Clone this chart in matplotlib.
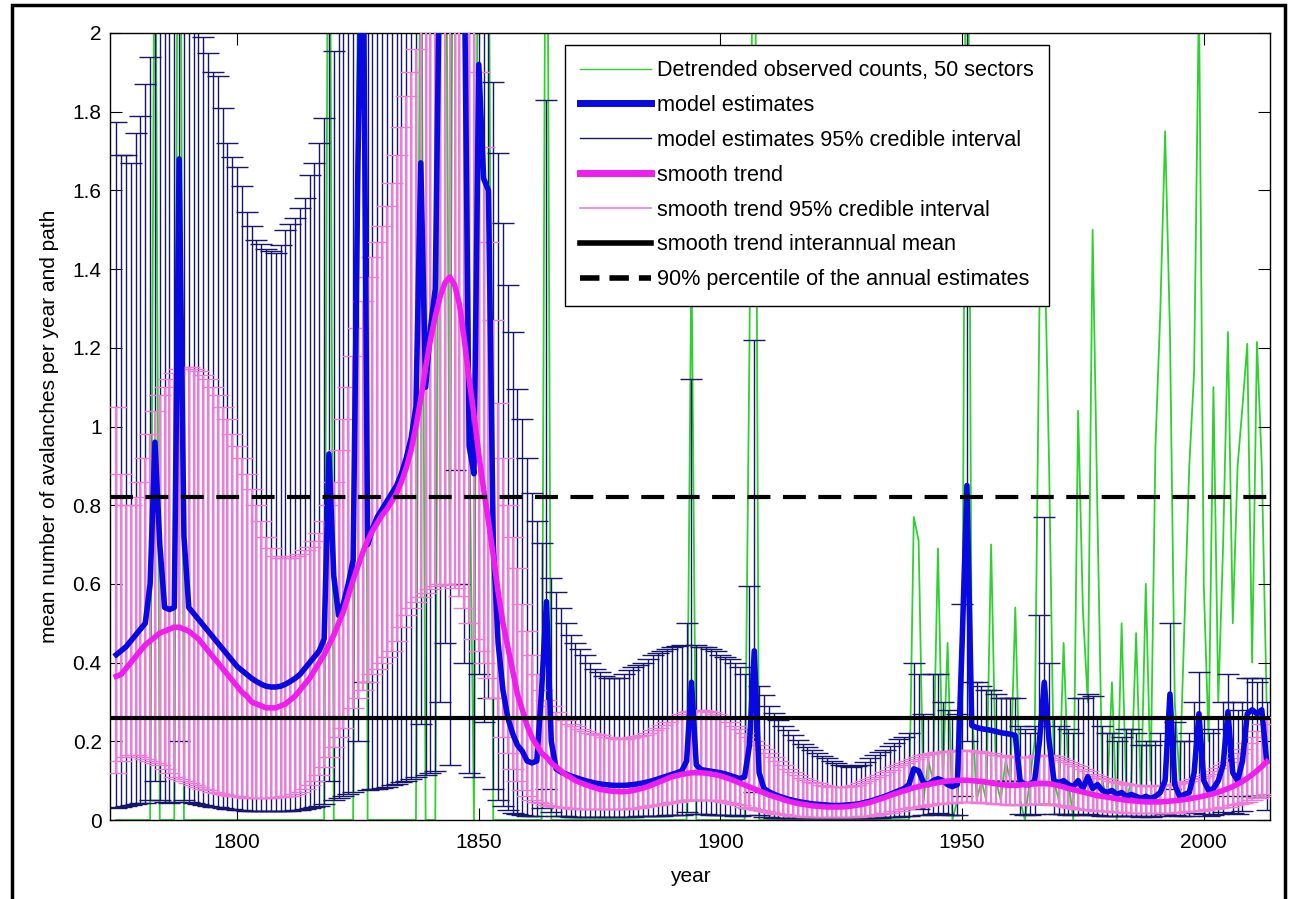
import numpy as np
import matplotlib.pyplot as plt
from matplotlib.lines import Line2D
from matplotlib.patches import Rectangle
from matplotlib.ticker import FuncFormatter

plt.rcParams['font.family'] = ['Liberation Sans', 'DejaVu Sans']

# years 1775..2013, one value per year (rows = decades)
years = np.arange(1775, 2014)

# detrended observed counts (green)
obs = [0, 0, 0, 0, 0,
       0, 0, 0, 2.6, 0, 0, 0, 0, 3.5, 0,
       0, 0, 0, 0, 0, 0, 0, 0, 0, 0,
       0, 0, 0, 0, 0, 0, 0, 0, 0, 0,
       0, 0, 0, 0, 0, 0, 0, 0, 0, 3.0,
       0, 0, 0, 0, 0, 2.2, 4.5, 0, 0, 0,
       0, 0, 0, 0, 0, 0, 0, 0, 2.6, 0,
       0, 0, 2.5, 3.0, 0.6, 3.5, 3.0, 2.5, 1.05, 0,
       3.0, 2.2, 2.5, 0, 0, 0, 0, 0, 0, 0,
       0, 0, 0, 0, 3.0, 0, 0, 0, 0, 0,
       0, 0, 0, 0, 0, 0, 0, 0, 0, 0,
       0, 0, 0, 0, 0, 0, 0, 0, 0, 0,
       0, 0, 0, 0, 1.45, 0, 0, 0, 0, 0,
       0, 0, 0, 0, 0, 0, 1.2, 2.8, 0, 0,
       0, 0, 0, 0, 0, 0, 0, 0, 0, 0,
       0, 0, 0, 0, 0, 0, 0, 0, 0, 0,
       0, 0, 0, 0, 0, 0, 0, 0, 0, 0,
       0.77, 0.71, 0.05, 0.15, 0.1, 0.69, 0.1, 0.45, 0.0, 0.05,
       0.2, 3.0, 0.3, 0.05, 0.1, 0.05, 0.70, 0.1, 0.05, 0.15,
       0.1, 0.54, 0.05, 0.0, 0.1, 0.2, 1.3, 1.5, 0.9, 0.1,
       0.05, 0.45, 0.1, 0.0, 1.04, 0.53, 0.3, 1.5, 0.775, 0.1,
       0.05, 0.35, 0.0, 0.5, 0.05, 0.1, 0.475, 0.05, 0.6, 0.1,
       0.95, 1.29, 1.75, 1.24, 0.3, 0.1, 0.5, 0.9, 1.14, 2.1,
       0.6, 0.2, 1.1, 0.3, 0.7, 1.24, 0.5, 0.9, 1.05, 1.21,
       0.4, 1.215, 0.9, 0.3]

# model estimates (thick blue)
model = [0.42, 0.43, 0.44, 0.455, 0.47,
         0.485, 0.50, 0.60, 0.96, 0.70, 0.54, 0.535, 0.54, 1.68, 0.72,
         0.54, 0.525, 0.51, 0.495, 0.48, 0.465, 0.45, 0.435, 0.42, 0.405,
         0.39, 0.38, 0.37, 0.36, 0.352, 0.345, 0.34, 0.338, 0.338, 0.34,
         0.345, 0.352, 0.36, 0.37, 0.385, 0.40, 0.415, 0.43, 0.46, 0.93,
         0.62, 0.52, 0.55, 0.60, 0.66, 1.67, 2.4, 0.70, 0.74, 0.77,
         0.79, 0.81, 0.83, 0.85, 0.88, 0.92, 0.97, 1.05, 1.67, 1.1,
         1.25, 1.35, 2.3, 2.6, 2.1, 2.7, 2.5, 2.2, 0.95, 0.88,
         1.92, 1.63, 1.6, 0.7, 0.45, 0.33, 0.26, 0.22, 0.19, 0.175,
         0.15, 0.145, 0.15, 0.33, 0.555, 0.2, 0.13, 0.122, 0.117, 0.112,
         0.108, 0.104, 0.1, 0.097, 0.094, 0.092, 0.09, 0.089, 0.088, 0.088,
         0.088, 0.089, 0.09, 0.092, 0.094, 0.097, 0.1, 0.104, 0.108, 0.112,
         0.116, 0.12, 0.125, 0.15, 0.35, 0.14, 0.128, 0.126, 0.124, 0.122,
         0.12, 0.117, 0.113, 0.109, 0.105, 0.11, 0.19, 0.43, 0.12, 0.08,
         0.072, 0.066, 0.061, 0.057, 0.053, 0.05, 0.047, 0.045, 0.043, 0.041,
         0.04, 0.039, 0.038, 0.037, 0.037, 0.037, 0.038, 0.039, 0.04, 0.042,
         0.045, 0.048, 0.052, 0.056, 0.06, 0.065, 0.07, 0.075, 0.08, 0.09,
         0.13, 0.125, 0.095, 0.09, 0.1, 0.105, 0.1, 0.09, 0.085, 0.09,
         0.45, 0.85, 0.24, 0.235, 0.232, 0.23, 0.228, 0.225, 0.222, 0.22,
         0.218, 0.215, 0.1, 0.09, 0.09, 0.1, 0.2, 0.35, 0.2, 0.1,
         0.095, 0.1, 0.09, 0.085, 0.1, 0.08, 0.11, 0.08, 0.09, 0.075,
         0.07, 0.075, 0.065, 0.07, 0.06, 0.065, 0.06, 0.055, 0.06, 0.055,
         0.06, 0.07, 0.1, 0.32, 0.09, 0.06, 0.065, 0.07, 0.12, 0.27,
         0.1, 0.075, 0.08, 0.1, 0.14, 0.275, 0.12, 0.1, 0.15, 0.27,
         0.28, 0.27, 0.28, 0.15]

# model estimates 95% credible interval
model_lo = [0.03, 0.032, 0.035, 0.038, 0.04,
            0.042, 0.044, 0.05, 0.1, 0.05, 0.045, 0.044, 0.045, 0.2, 0.05,
            0.045, 0.043, 0.04, 0.038, 0.036, 0.034, 0.032, 0.03, 0.028, 0.027,
            0.026, 0.025, 0.024, 0.023, 0.022, 0.022, 0.022, 0.022, 0.022, 0.022,
            0.023, 0.024, 0.025, 0.026, 0.028, 0.03, 0.033, 0.036, 0.04, 0.1,
            0.05, 0.055, 0.06, 0.065, 0.07, 0.2, 0.35, 0.075, 0.078, 0.08,
            0.082, 0.085, 0.088, 0.092, 0.096, 0.1, 0.105, 0.11, 0.245, 0.115,
            0.12, 0.125, 0.3, 0.45, 0.14, 0.89, 0.6, 0.4, 0.12, 0.11,
            0.37, 0.25, 0.31, 0.08, 0.05, 0.035, 0.025, 0.018, 0.014, 0.012,
            0.011, 0.01, 0.01, 0.03, 0.08, 0.02, 0.01, 0.009, 0.009, 0.008,
            0.008, 0.008, 0.008, 0.008, 0.008, 0.008, 0.008, 0.008, 0.008, 0.008,
            0.008, 0.008, 0.008, 0.009, 0.009, 0.01, 0.01, 0.011, 0.011, 0.012,
            0.012, 0.013, 0.013, 0.02, 0.05, 0.015, 0.014, 0.014, 0.013, 0.013,
            0.013, 0.012, 0.012, 0.011, 0.011, 0.012, 0.03, 0.07, 0.012, 0.008,
            0.007, 0.006, 0.006, 0.005, 0.005, 0.005, 0.004, 0.004, 0.004, 0.004,
            0.004, 0.004, 0.004, 0.004, 0.004, 0.004, 0.004, 0.004, 0.004, 0.005,
            0.005, 0.005, 0.006, 0.006, 0.007, 0.007, 0.008, 0.008, 0.009, 0.01,
            0.03, 0.028, 0.012, 0.012, 0.015, 0.018, 0.015, 0.013, 0.012, 0.013,
            0.06, 0.2, 0.1, 0.1, 0.1, 0.1, 0.1, 0.1, 0.1, 0.1,
            0.1, 0.1, 0.015, 0.013, 0.013, 0.015, 0.04, 0.09, 0.04, 0.015,
            0.014, 0.015, 0.013, 0.012, 0.015, 0.012, 0.016, 0.012, 0.013, 0.011,
            0.01, 0.011, 0.009, 0.01, 0.009, 0.009, 0.009, 0.008, 0.009, 0.008,
            0.009, 0.01, 0.015, 0.08, 0.013, 0.009, 0.01, 0.01, 0.018, 0.06,
            0.015, 0.011, 0.012, 0.015, 0.02, 0.06, 0.018, 0.015, 0.022, 0.06,
            0.06, 0.06, 0.06, 0.025]

model_hi = [1.775, 1.69, 1.69, 1.67, 1.745,
            1.79, 1.87, 1.94, 2.4, 2.5, 2.6, 2.6, 2.7, 3.5, 2.8,
            2.5, 2.2, 2.05, 1.99, 1.95, 1.90, 1.89, 1.81, 1.72, 1.685,
            1.66, 1.61, 1.545, 1.51, 1.475, 1.465, 1.45, 1.445, 1.44, 1.46,
            1.50, 1.515, 1.53, 1.555, 1.58, 1.64, 1.67, 1.72, 1.785, 3.0,
            1.955, 2.1, 2.2, 2.3, 2.4, 3.5, 4.5, 2.6, 2.5, 2.5,
            2.5, 2.5, 2.55, 2.6, 2.65, 2.7, 2.8, 2.9, 3.5, 3.0,
            3.1, 3.2, 4.0, 4.5, 3.5, 4.5, 4.2, 3.8, 2.9, 2.8,
            3.6, 3.0, 3.2, 1.876, 1.695, 1.517, 1.36, 1.24, 1.095, 1.02,
            0.92, 0.83, 0.76, 0.705, 1.83, 0.615, 0.58, 0.54, 0.50, 0.47,
            0.45, 0.435, 0.42, 0.40, 0.385, 0.375, 0.365, 0.36, 0.36, 0.362,
            0.37, 0.38, 0.39, 0.395, 0.40, 0.41, 0.42, 0.425, 0.43, 0.435,
            0.44, 0.443, 0.445, 0.50, 1.12, 0.445, 0.44, 0.44, 0.435, 0.43,
            0.42, 0.415, 0.41, 0.40, 0.39, 0.37, 0.595, 1.22, 0.34, 0.318,
            0.29, 0.272, 0.254, 0.24, 0.229, 0.215, 0.203, 0.194, 0.186, 0.177,
            0.169, 0.163, 0.157, 0.15, 0.144, 0.14, 0.137, 0.135, 0.137, 0.14,
            0.148, 0.157, 0.165, 0.172, 0.178, 0.187, 0.195, 0.205, 0.212, 0.22,
            0.40, 0.37, 0.27, 0.26, 0.37, 0.37, 0.30, 0.28, 0.26, 0.27,
            0.55, 2.3, 0.35, 0.35, 0.34, 0.33, 0.33, 0.32, 0.31, 0.31,
            0.31, 0.31, 0.24, 0.23, 0.22, 0.24, 0.52, 0.77, 0.40, 0.26,
            0.24, 0.26, 0.23, 0.22, 0.31, 0.31, 0.32, 0.315, 0.26, 0.24,
            0.22, 0.22, 0.20, 0.21, 0.23, 0.23, 0.22, 0.19, 0.20, 0.19,
            0.20, 0.22, 0.26, 0.50, 0.25, 0.20, 0.20, 0.22, 0.30, 0.375,
            0.26, 0.22, 0.23, 0.26, 0.30, 0.37, 0.30, 0.28, 0.30, 0.36,
            0.36, 0.35, 0.36, 0.30]

# smooth trend (thick magenta)
trend = [0.365, 0.37, 0.385, 0.40, 0.415,
         0.43, 0.445, 0.455, 0.465, 0.475, 0.48, 0.485, 0.49, 0.49, 0.485,
         0.48, 0.47, 0.46, 0.445, 0.43, 0.415, 0.40, 0.385, 0.37, 0.355,
         0.34, 0.325, 0.315, 0.30, 0.295, 0.29, 0.285, 0.285, 0.285, 0.29,
         0.295, 0.305, 0.315, 0.33, 0.345, 0.36, 0.38, 0.40, 0.42, 0.445,
         0.47, 0.50, 0.53, 0.57, 0.61, 0.645, 0.68, 0.71, 0.735, 0.755,
         0.775, 0.79, 0.81, 0.83, 0.86, 0.895, 0.94, 1.0, 1.07, 1.15,
         1.22, 1.28, 1.33, 1.365, 1.38, 1.36, 1.31, 1.22, 1.12, 1.03,
         0.93, 0.84, 0.76, 0.67, 0.58, 0.50, 0.44, 0.38, 0.32, 0.28,
         0.24, 0.21, 0.19, 0.17, 0.16, 0.145, 0.135, 0.125, 0.115, 0.108,
         0.10, 0.095, 0.09, 0.086, 0.082, 0.078, 0.076, 0.074, 0.073, 0.072,
         0.072, 0.073, 0.075, 0.078, 0.081, 0.085, 0.09, 0.095, 0.10, 0.105,
         0.11, 0.113, 0.116, 0.118, 0.12, 0.12, 0.12, 0.119, 0.117, 0.115,
         0.112, 0.108, 0.104, 0.099, 0.094, 0.089, 0.084, 0.079, 0.074, 0.069,
         0.064, 0.06, 0.056, 0.052, 0.048, 0.045, 0.042, 0.04, 0.038, 0.036,
         0.035, 0.034, 0.033, 0.033, 0.033, 0.033, 0.034, 0.035, 0.037, 0.039,
         0.042, 0.045, 0.049, 0.053, 0.057, 0.062, 0.066, 0.07, 0.074, 0.078,
         0.082, 0.085, 0.088, 0.09, 0.093, 0.095, 0.097, 0.099, 0.10, 0.101,
         0.101, 0.101, 0.10, 0.099, 0.098, 0.096, 0.094, 0.092, 0.09, 0.089,
         0.088, 0.088, 0.089, 0.09, 0.091, 0.092, 0.093, 0.093, 0.092, 0.09,
         0.087, 0.084, 0.08, 0.077, 0.074, 0.071, 0.068, 0.065, 0.062, 0.06,
         0.058, 0.056, 0.054, 0.052, 0.05, 0.049, 0.048, 0.047, 0.046, 0.046,
         0.046, 0.046, 0.047, 0.048, 0.049, 0.05, 0.052, 0.054, 0.056, 0.058,
         0.061, 0.064, 0.067, 0.071, 0.075, 0.08, 0.085, 0.091, 0.098, 0.106,
         0.115, 0.125, 0.136, 0.148]

# smooth trend 95% credible interval
trend_lo = [0.12, 0.15, 0.16, 0.165, 0.165,
            0.16, 0.155, 0.15, 0.145, 0.14, 0.13, 0.12, 0.11, 0.105, 0.10,
            0.095, 0.09, 0.085, 0.08, 0.075, 0.07, 0.068, 0.066, 0.064, 0.062,
            0.06, 0.058, 0.057, 0.056, 0.056, 0.056, 0.056, 0.057, 0.058, 0.059,
            0.06, 0.062, 0.065, 0.07, 0.078, 0.088, 0.10, 0.115, 0.135, 0.16,
            0.185, 0.21, 0.235, 0.26, 0.285, 0.31, 0.33, 0.35, 0.37, 0.385,
            0.40, 0.415, 0.43, 0.455, 0.49, 0.52, 0.54, 0.555, 0.567, 0.578,
            0.588, 0.595, 0.60, 0.60, 0.598, 0.59, 0.57, 0.54, 0.50, 0.46,
            0.43, 0.40, 0.36, 0.31, 0.26, 0.21, 0.17, 0.13, 0.10, 0.075,
            0.06, 0.052, 0.046, 0.042, 0.039, 0.036, 0.034, 0.032, 0.031, 0.03,
            0.029, 0.028, 0.028, 0.027, 0.027, 0.027, 0.027, 0.027, 0.027, 0.028,
            0.028, 0.029, 0.03, 0.031, 0.033, 0.035, 0.037, 0.039, 0.041, 0.043,
            0.045, 0.047, 0.049, 0.05, 0.051, 0.052, 0.052, 0.052, 0.051, 0.05,
            0.048, 0.046, 0.043, 0.04, 0.037, 0.034, 0.031, 0.028, 0.025, 0.022,
            0.02, 0.018, 0.016, 0.014, 0.012, 0.011, 0.01, 0.009, 0.008, 0.008,
            0.007, 0.007, 0.007, 0.007, 0.007, 0.007, 0.007, 0.008, 0.008, 0.009,
            0.01, 0.011, 0.013, 0.015, 0.017, 0.019, 0.022, 0.024, 0.027, 0.03,
            0.032, 0.034, 0.036, 0.038, 0.04, 0.041, 0.042, 0.043, 0.044, 0.045,
            0.045, 0.045, 0.045, 0.045, 0.044, 0.043, 0.042, 0.041, 0.04, 0.04,
            0.039, 0.039, 0.039, 0.04, 0.04, 0.041, 0.041, 0.041, 0.04, 0.039,
            0.037, 0.035, 0.033, 0.031, 0.029, 0.028, 0.026, 0.025, 0.024, 0.023,
            0.022, 0.021, 0.02, 0.02, 0.019, 0.019, 0.018, 0.018, 0.018, 0.018,
            0.018, 0.018, 0.018, 0.019, 0.019, 0.02, 0.021, 0.022, 0.023, 0.024,
            0.025, 0.027, 0.028, 0.03, 0.032, 0.034, 0.037, 0.04, 0.043, 0.047,
            0.051, 0.056, 0.061, 0.067]

trend_hi = [1.05, 0.88, 0.80, 0.80, 0.82,
            0.86, 0.92, 0.98, 1.04, 1.08, 1.10, 1.12, 1.135, 1.145, 1.15,
            1.15, 1.145, 1.14, 1.13, 1.12, 1.10, 1.08, 1.05, 1.02, 0.98,
            0.95, 0.92, 0.88, 0.84, 0.80, 0.76, 0.72, 0.69, 0.67, 0.665,
            0.665, 0.665, 0.67, 0.675, 0.685, 0.695, 0.71, 0.73, 0.76, 0.80,
            0.86, 0.94, 1.02, 1.10, 1.18, 1.25, 1.32, 1.38, 1.43, 1.47,
            1.51, 1.56, 1.62, 1.69, 1.76, 1.84, 1.90, 1.96, 2.05, 2.15,
            2.25, 2.35, 2.45, 2.5, 2.5, 2.45, 2.35, 2.25, 2.15, 2.05,
            1.90, 1.71, 1.47, 1.27, 1.06, 0.92, 0.80, 0.72, 0.64, 0.55,
            0.48, 0.42, 0.37, 0.33, 0.305, 0.29, 0.275, 0.265, 0.255, 0.245,
            0.238, 0.232, 0.227, 0.222, 0.218, 0.215, 0.212, 0.21, 0.208, 0.207,
            0.207, 0.208, 0.21, 0.213, 0.217, 0.222, 0.228, 0.235, 0.242, 0.25,
            0.257, 0.264, 0.27, 0.275, 0.278, 0.28, 0.28, 0.278, 0.275, 0.27,
            0.264, 0.257, 0.249, 0.24, 0.23, 0.22, 0.21, 0.20, 0.19, 0.18,
            0.17, 0.16, 0.15, 0.14, 0.13, 0.122, 0.115, 0.108, 0.102, 0.097,
            0.093, 0.09, 0.087, 0.085, 0.084, 0.084, 0.085, 0.087, 0.09, 0.094,
            0.098, 0.103, 0.109, 0.115, 0.121, 0.128, 0.134, 0.14, 0.146, 0.151,
            0.156, 0.16, 0.164, 0.167, 0.17, 0.172, 0.174, 0.175, 0.176, 0.177,
            0.177, 0.177, 0.176, 0.175, 0.173, 0.171, 0.169, 0.166, 0.164, 0.162,
            0.16, 0.159, 0.159, 0.16, 0.161, 0.163, 0.164, 0.165, 0.164, 0.162,
            0.158, 0.153, 0.148, 0.142, 0.136, 0.13, 0.124, 0.118, 0.113, 0.108,
            0.104, 0.10, 0.097, 0.094, 0.092, 0.09, 0.089, 0.088, 0.087, 0.087,
            0.087, 0.088, 0.089, 0.09, 0.092, 0.094, 0.097, 0.10, 0.104, 0.108,
            0.113, 0.118, 0.124, 0.131, 0.139, 0.148, 0.158, 0.169, 0.181, 0.195,
            0.21, 0.226, 0.243, 0.262]

mean_level = 0.26   # smooth trend interannual mean
p90_level = 0.82    # 90% percentile of the annual estimates

labels = ['Detrended observed counts, 50 sectors',
          'model estimates',
          'model estimates 95% credible interval',
          'smooth trend',
          'smooth trend 95% credible interval',
          'smooth trend interannual mean',
          '90% percentile of the annual estimates']

c_obs = '#2fd12f'
c_ci = '#16166a'
c_model = '#0808e0'
c_tci = '#f07ad8'
c_trend = '#ee1eee'

model = np.array(model)
trend = np.array(trend)

fig = plt.figure(figsize=(12.89, 8.99), dpi=100)
ax = fig.add_axes([110/1289, 1 - 820/899, 1160/1289, 787/899])

ax.plot(years, obs, color=c_obs, lw=1.3, zorder=1)
ax.errorbar(years, model, yerr=[model - np.array(model_lo), np.array(model_hi) - model],
            fmt='none', ecolor=c_ci, elinewidth=1.0, capsize=7.9, capthick=1.0, zorder=2)
ax.errorbar(years, trend, yerr=[trend - np.array(trend_lo), np.array(trend_hi) - trend],
            fmt='none', ecolor=c_tci, elinewidth=1.6, capsize=7.9, capthick=1.0, zorder=3)
ax.plot(years, model, color=c_model, lw=4, zorder=4)
ax.plot(years, trend, color=c_trend, lw=4, zorder=5)
ax.axhline(mean_level, color='black', lw=3, zorder=6)
ax.axhline(p90_level, color='black', lw=3, dashes=(5.5, 3.0), zorder=6)

ax.set_xlim(1773.7, 2013.7)
ax.set_ylim(0, 2)
ax.set_xticks([1800, 1850, 1900, 1950, 2000])
ax.set_yticks(np.arange(0, 2.01, 0.2))
ax.yaxis.set_major_formatter(FuncFormatter(lambda v, p: '%g' % round(v, 1)))
ax.tick_params(direction='in', length=8.5, width=0.8, top=True, right=True,
               labelsize=15, colors='black')
ax.tick_params(axis='x', pad=9)
ax.tick_params(axis='y', pad=6)
for s in ax.spines.values():
    s.set_linewidth(1.0)

ax.set_xlabel('year', fontsize=15, labelpad=11)
ax.set_ylabel('mean number of avalanches per year and path', fontsize=15, labelpad=10)

handles = [Line2D([], [], color=c_obs, lw=1.0),
           Line2D([], [], color=c_model, lw=5),
           Line2D([], [], color=c_ci, lw=1.0),
           Line2D([], [], color=c_trend, lw=5),
           Line2D([], [], color=c_tci, lw=1.2),
           Line2D([], [], color='black', lw=4),
           Line2D([], [], color='black', lw=4, dashes=(3.5, 1.8))]
leg = ax.legend(handles, labels, loc='upper left',
                bbox_to_anchor=(565/1289, 1 - 45/899), bbox_transform=fig.transFigure,
                borderaxespad=0, fontsize=15.6, handlelength=3.25, handletextpad=0.3,
                labelspacing=0.64, borderpad=0.7, fancybox=False, framealpha=1,
                edgecolor='black')
leg.get_frame().set_linewidth(1.0)
leg.set_zorder(10)

# black frame round the figure
fig.add_artist(Rectangle((12/1289, -0.02), 1273/1289, 1 - 5/899 + 0.02,
                         transform=fig.transFigure, fill=False, lw=2.5,
                         edgecolor='black'))

fig.savefig('out.png', dpi=100)
